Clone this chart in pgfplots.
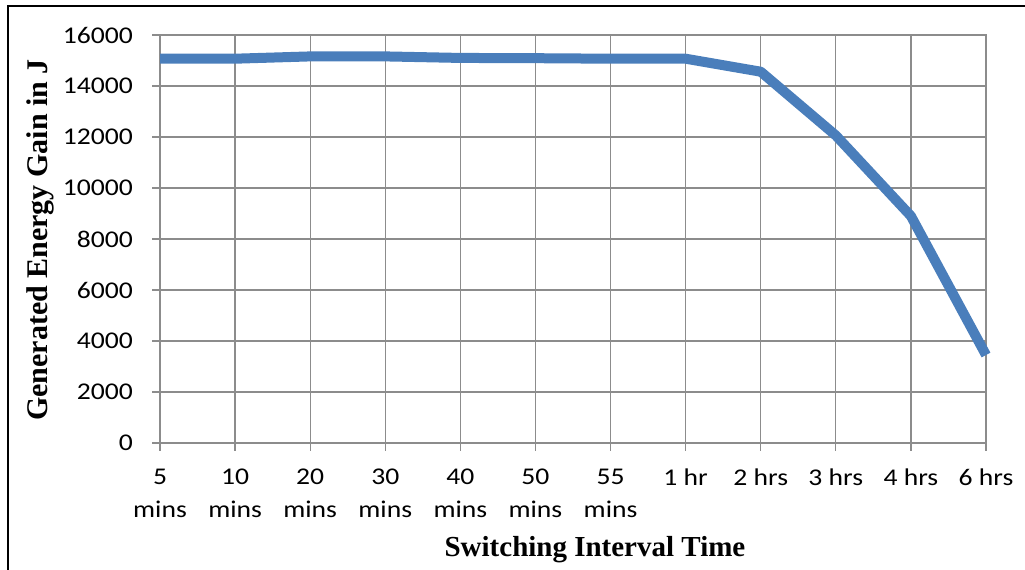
\documentclass[border=0pt]{standalone}
\usepackage{pgfplots}
\pgfplotsset{compat=1.18}
\usepackage{fontspec}
\setmainfont{Carlito}
\newfontfamily\tickfont[FakeStretch=1.15]{Carlito}
\newfontfamily\labelfont{Liberation Serif}
\definecolor{seriesblue}{RGB}{74,126,187}
\definecolor{gridgray}{RGB}{140,140,140}

\pgfplotstableread{
idx energy
0  15070
1  15070
2  15160
3  15160
4  15100
5  15090
6  15070
7  15070
8  14560
9  12060
10 8900
11 3450
}\energydata

\begin{document}
\begin{tikzpicture}[x=1bp,y=1bp]
\useasboundingbox (0,0) rectangle (1025,570);
\draw[black, line width=1.8bp] (8,0) -- (8,564) -- (1025,564);
\begin{axis}[
  at={(160bp,127bp)}, anchor=origin,
  scale only axis,
  width=826bp, height=408bp,
  xmin=0, xmax=11, ymin=0, ymax=16000,
  xtick={0,...,11},
  xticklabels={5\\mins,10\\mins,20\\mins,30\\mins,40\\mins,50\\mins,55\\mins,1 hr,2 hrs,3 hrs,4 hrs,6 hrs},
  ytick={0,2000,...,16000},
  scaled y ticks=false,
  /pgf/number format/assume math mode=true,
  y tick label style={/pgf/number format/1000 sep={}, font=\tickfont\fontsize{24bp}{27bp}\selectfont, anchor=east, inner sep=0pt, xshift=-19bp},
  x tick label style={font=\tickfont\fontsize{24bp}{33bp}\selectfont, align=center, anchor=north, inner sep=0pt, yshift=-18bp},
  grid=major,
  major grid style={gridgray, line width=1.3bp},
  axis line style={gridgray, line width=1.3bp},
  tick style={gridgray, line width=1.3bp},
  tick align=outside,
  major tick length=8bp,
  xtick pos=bottom, ytick pos=left,
  xlabel={\labelfont\bfseries\fontsize{29bp}{32bp}\selectfont Switching Interval Time},
  ylabel={\labelfont\bfseries\fontsize{30bp}{33bp}\selectfont Generated Energy Gain in J},
  xlabel style={at={(axis description cs:0.5266,-0.2794)}, anchor=base},
  ylabel style={at={(axis description cs:-0.1368,0.4975)}, anchor=base},
  clip=false,
]
\addplot[seriesblue, line width=10bp, line join=round] table[x=idx, y=energy] {\energydata};
\end{axis}
\end{tikzpicture}
\end{document}
